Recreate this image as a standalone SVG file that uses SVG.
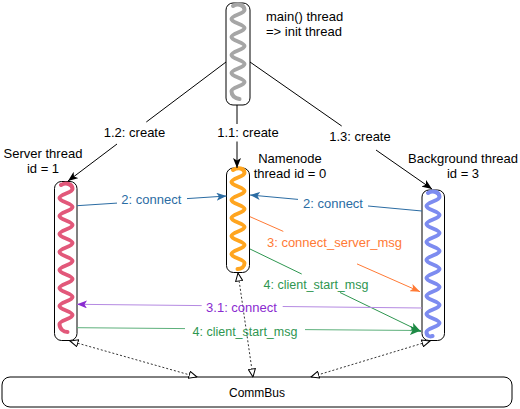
<svg xmlns="http://www.w3.org/2000/svg" width="520" height="409" viewBox="0 0 520 409">
<style>
text{font-family:"Liberation Sans",Arial,Helvetica,sans-serif;font-size:13px;fill:#000}
.box{fill:#fff;stroke:#000;stroke-width:1}
.wave{fill:none;stroke-width:4;stroke-linecap:round;stroke-linejoin:round}
.c{text-anchor:middle}
.e{fill:none;stroke-width:1}
.dot{fill:none;stroke:#333;stroke-width:1;stroke-dasharray:2,2;marker-start:url(#open);marker-end:url(#open)}
</style>
<defs>
<marker id="ak" markerUnits="userSpaceOnUse" markerWidth="10" markerHeight="8" refX="10" refY="4" orient="auto" viewBox="0 0 10 8"><path d="M0,0 L10,4 L0,8 L2.5,4 z" fill="#000"/></marker>
<marker id="ab" markerUnits="userSpaceOnUse" markerWidth="10" markerHeight="8" refX="10" refY="4" orient="auto" viewBox="0 0 10 8"><path d="M0,0 L10,4 L0,8 L2.5,4 z" fill="#2B6CA3"/></marker>
<marker id="ao" markerUnits="userSpaceOnUse" markerWidth="10" markerHeight="8" refX="10" refY="4" orient="auto" viewBox="0 0 10 8"><path d="M0,0 L10,4 L0,8 L2.5,4 z" fill="#FF7A35"/></marker>
<marker id="ag" markerUnits="userSpaceOnUse" markerWidth="11" markerHeight="9" refX="11" refY="4.5" orient="auto" viewBox="0 0 11 9"><path d="M0,0 L11,4.5 L0,9 L2.5,4.5 z" fill="#1E8A45"/></marker>
<marker id="ap" markerUnits="userSpaceOnUse" markerWidth="10" markerHeight="8" refX="10" refY="4" orient="auto" viewBox="0 0 10 8"><path d="M0,0 L10,4 L0,8 L2.5,4 z" fill="#8A2BD0"/></marker>
<marker id="open" markerUnits="userSpaceOnUse" markerWidth="9" markerHeight="8" refX="8.5" refY="4" orient="auto-start-reverse" viewBox="0 0 9 8"><path d="M0.5,0.5 L8.5,4 L0.5,7.5 z" fill="#fff" stroke="#000" stroke-width="1"/></marker>
</defs>

<g id="main-thread">
<rect class="box" x="226" y="3" width="24" height="102" rx="7"/>
<path class="wave" stroke="#A6A6A6" d="M233,6 C238,3 244.5,5 244.5,10 c0,3.6 -13,5.4 -13,9 s13,5.4 13,9 s-13,5.4 -13,9 s13,5.4 13,9 s-13,5.4 -13,9 s13,5.4 13,9 s-13,5.4 -13,9 s13,5.4 13,9 s-13,5.4 -13,9 c0,4 3,7 8,8"/>
<text x="266" y="21">main() thread</text>
<text x="266" y="36">=&gt; init thread</text>
</g>

<g id="server-thread">
<rect class="box" x="54.5" y="181.5" width="22.5" height="159" rx="7"/>
<path class="wave" stroke="#E2587A" d="M61,185 C66,182 72.5,184 72.5,189 c0,3.6 -13,5.4 -13,9 s13,5.4 13,9 s-13,5.4 -13,9 s13,5.4 13,9 s-13,5.4 -13,9 s13,5.4 13,9 s-13,5.4 -13,9 s13,5.4 13,9 s-13,5.4 -13,9 s13,5.4 13,9 s-13,5.4 -13,9 s13,5.4 13,9 s-13,5.4 -13,9 s13,5.4 13,9 s-13,5.4 -13,9 c0,5 4,8 8,8"/>
<text class="c" x="43" y="158">Server thread</text>
<text class="c" x="43" y="173">id = 1</text>
</g>

<g id="namenode-thread">
<rect class="box" x="226.5" y="168" width="23" height="104.5" rx="7"/>
<path class="wave" stroke="#FFA51F" d="M233,170 C238,167 244.5,168 244.5,173 c0,3.6 -13,5.4 -13,9 s13,5.4 13,9 s-13,5.4 -13,9 s13,5.4 13,9 s-13,5.4 -13,9 s13,5.4 13,9 s-13,5.4 -13,9 s13,5.4 13,9 s-13,5.4 -13,9 s13,5.4 13,9 c0,4 -3,6 -7,6"/>
<text class="c" x="290" y="163">Namenode</text>
<text class="c" x="290" y="178">thread id = 0</text>
</g>

<g id="background-thread">
<rect class="box" x="422" y="190" width="22.5" height="150.5" rx="7"/>
<path class="wave" stroke="#7D8CF0" d="M428,193 C433,190 439.5,192 439.5,197 c0,3.6 -13,5.4 -13,9 s13,5.4 13,9 s-13,5.4 -13,9 s13,5.4 13,9 s-13,5.4 -13,9 s13,5.4 13,9 s-13,5.4 -13,9 s13,5.4 13,9 s-13,5.4 -13,9 s13,5.4 13,9 s-13,5.4 -13,9 s13,5.4 13,9 s-13,5.4 -13,9 s13,5.4 13,9 s-13,5.4 -13,9 c0,4 3,5 6,4"/>
<text class="c" x="463" y="163">Background thread</text>
<text class="c" x="463" y="178">id = 3</text>
</g>

<g id="commbus">
<rect class="box" x="2" y="377" width="510" height="30" rx="8"/>
<text class="c" x="257" y="397" style="font-size:12px">CommBus</text>
</g>

<g id="connectors">
<path class="e" stroke="#000" d="M226,62 L146.3,122 M117,144 L68,181" marker-end="url(#ak)"/>
<path class="e" stroke="#000" d="M237,105 L237,124 M237,141.5 L237,168" marker-end="url(#ak)"/>
<path class="e" stroke="#000" d="M250,62 L341.7,126 M376,150 L432,189" marker-end="url(#ak)"/>
<path class="e" stroke="#2B6CA3" d="M77,205.7 L117,203.1 M187,198.6 L226.5,196" marker-end="url(#ab)"/>
<path class="e" stroke="#2B6CA3" d="M422,211 L368,206 M298,199.4 L250,195" marker-end="url(#ab)"/>
<path class="e" stroke="#FF7A35" d="M250,216.7 L283.3,231.4 M357,263.9 L420,291.7" marker-end="url(#ao)"/>
<path class="e" stroke="#2E9650" d="M250,249 L301.7,274 M340,292.5 L421,331.7" marker-end="url(#ag)"/>
<path class="e" stroke="#B58AE2" stroke-width="1.6" d="M422,308 L282.7,306.5 M201.7,305.6 L77,304.3" marker-end="url(#ap)"/>
<path class="e" stroke="#5DB07B" stroke-width="1.6" d="M77,327.7 L185,328.6 M305,329.6 L421,330.5" marker-end="url(#ag)"/>
<path class="dot" d="M70,341 L197,377"/>
<path class="dot" d="M238,273 L253,377"/>
<path class="dot" d="M430,341 L311,377"/>
<text class="c" x="134.5" y="137">1.2: create</text>
<text class="c" x="248" y="137">1.1: create</text>
<text class="c" x="360" y="141">1.3: create</text>
<text class="c" x="151.3" y="204" style="fill:#2B6CA3">2: connect</text>
<text class="c" x="333" y="207.5" style="fill:#2B6CA3">2: connect</text>
<text class="c" x="334.5" y="246.5" style="fill:#FF7A35">3: connect_server_msg</text>
<text class="c" x="316" y="289" style="fill:#2E9650;font-size:12.5px">4: client_start_msg</text>
<text class="c" x="241.5" y="312" style="fill:#8A2BD0">3.1: connect</text>
<text class="c" x="245" y="336" style="fill:#2E9650;font-size:12.5px">4: client_start_msg</text>
</g>
</svg>
